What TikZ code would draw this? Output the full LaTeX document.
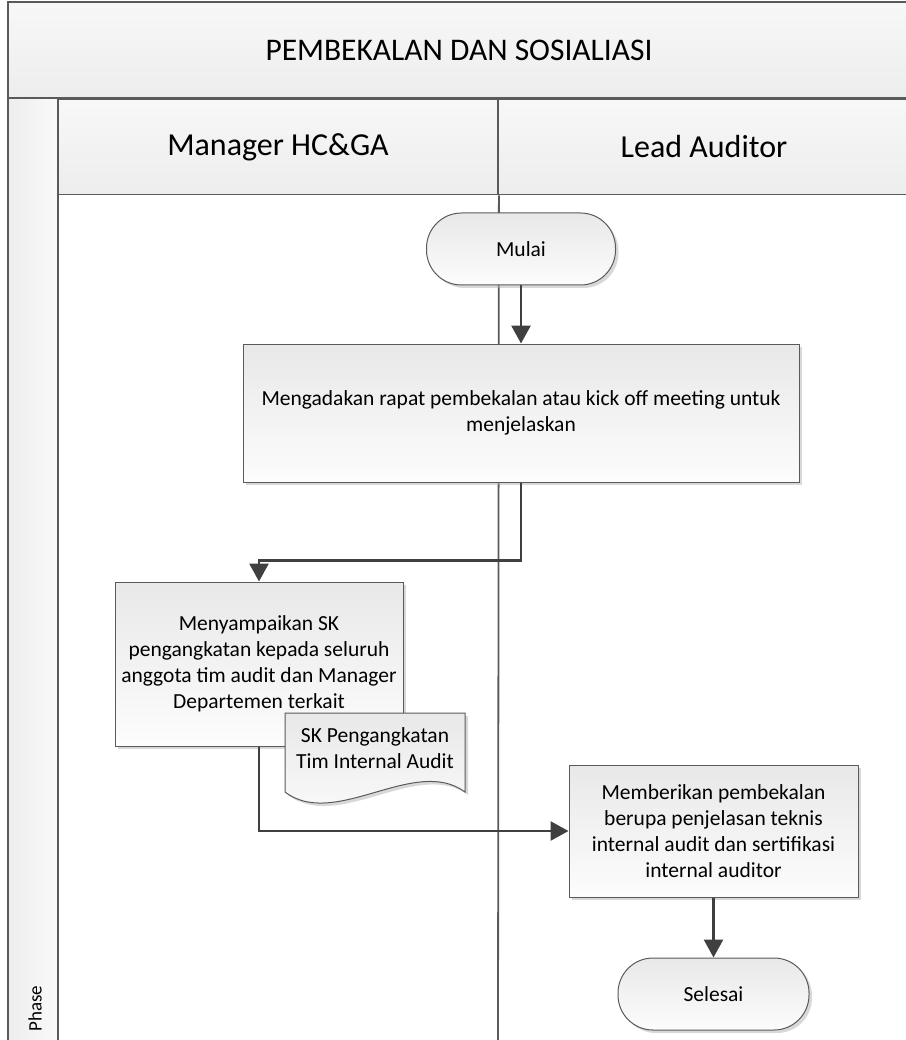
\documentclass[tikz,border=0pt]{standalone}
\usepackage{fontspec}
\setmainfont{Carlito}
\usetikzlibrary{arrows.meta,shadows}

\definecolor{lane}{HTML}{5A5A5A}
\definecolor{ink}{HTML}{404040}

\begin{document}
\begin{tikzpicture}[x=1pt,y=-1pt,
  band/.style={draw=lane, line width=1.8pt, top color=black!3, bottom color=black!7},
  boxshadow/.style={drop shadow={shadow xshift=3pt, shadow yshift=-3pt, fill=black!30, opacity=0.5}},
  task/.style={rectangle, draw=lane, line width=1pt, top color=black!9, bottom color=black!1,
    align=center, font=\fontsize{21.5}{26}\selectfont, boxshadow},
  term/.style={task, rounded corners=35pt, minimum height=72pt},
  flow/.style={draw=ink, line width=2.8pt, -{Triangle[length=18pt,width=19pt]}}
]
\useasboundingbox (0,0) rectangle (905,1040);

\node[band, minimum width=902pt, minimum height=96pt, font=\fontsize{31.5}{36}\selectfont] (title) at (459,50) {PEMBEKALAN DAN SOSIALIASI};
\node[band, minimum width=440pt, minimum height=95pt, font=\fontsize{32}{36}\selectfont] (hcga) at (278,147) {Manager HC\&GA};
\node[band, minimum width=412pt, minimum height=95pt, font=\fontsize{32}{36}\selectfont] (lead) at (704,147) {Lead Auditor};

\draw[band, left color=black!7, right color=black!2] (8,98) rectangle (58,1046);
\node[rotate=90, anchor=west, font=\fontsize{19}{22}\selectfont] (phase) at (35,1035) {Phase};
\draw[draw=lane, line width=1.8pt] (hcga.south east) -- (498,1046);

\node[term, minimum width=189pt] (mulai) at (521,249) {Mulai};
\node[task, minimum width=556pt, minimum height=138pt] (rapat) at (521,413) {Mengadakan rapat pembekalan atau kick off meeting untuk\\menjelaskan};
\node[task, minimum width=288pt, minimum height=164pt] (sampaikan) at (259,664) {Menyampaikan SK\\pengangkatan kepada seluruh\\anggota tim audit dan Manager\\Departemen terkait};

\draw[draw=lane, line width=1pt, top color=black!9, bottom color=black!1, boxshadow]
  (285,713) -- (465,713) -- (465,792)
  .. controls (415,755) and (335,830) .. (285,792) -- cycle;
\node[align=center, font=\fontsize{21.5}{26}\selectfont] (sk) at (375,748) {SK Pengangkatan\\Tim Internal Audit};

\node[task, minimum width=289pt, minimum height=132pt] (beri) at (713.5,831) {Memberikan pembekalan\\berupa penjelasan teknis\\internal audit dan sertifikasi\\internal auditor};
\node[term, minimum width=191pt] (selesai) at (713.5,994) {Selesai};

\draw[flow] (mulai.south) -- (rapat.north);
\draw[flow] (rapat.south) -- ++(0,78) -| (sampaikan.north);
\draw[flow] (sampaikan.south) |- (beri.west);
\draw[flow] (beri.south) -- (selesai.north);

\end{tikzpicture}
\end{document}
